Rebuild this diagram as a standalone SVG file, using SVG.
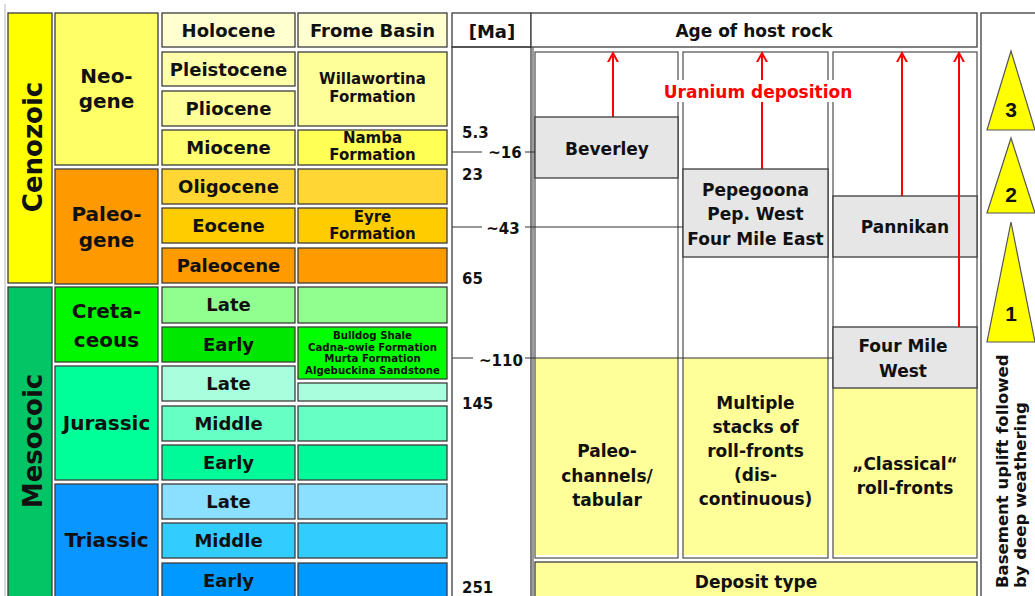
<svg xmlns="http://www.w3.org/2000/svg" width="1035" height="596" viewBox="0 0 1035 596">
  <style>
    text { font-family: "DejaVu Sans", "Liberation Sans", sans-serif; font-weight: bold; fill: #111; }
    .c { text-anchor: middle; }
    .box { stroke: #3c3c3c; stroke-width: 1.3; }
    .col { fill: none; stroke: #5a5a5a; stroke-width: 1.3; }
    .grey { fill: #e6e6e6; stroke: #3c3c3c; stroke-width: 1.3; }
    .dep { fill: #ffff99; }
    .tick { stroke: #333; stroke-width: 1.2; fill: none; }
    .up { stroke: #ff0000; stroke-width: 2; fill: none; marker-end: url(#head); }
    .era { font-size: 26px; }
    .per { font-size: 20px; }
    .ep { font-size: 18px; }
    .fm { font-size: 15px; }
    .fs { font-size: 10.2px; }
    .ma { font-size: 15px; }
    .age { font-size: 17px; }
    .tri { fill: #ffff00; stroke: #555; stroke-width: 1.2; }
    .num { font-family: "Liberation Sans", Arial, sans-serif; font-size: 21px; }
  </style>
  <defs>
    <marker id="head" markerUnits="userSpaceOnUse" markerWidth="18" markerHeight="18" viewBox="-9 -9 18 18" refX="0" refY="0" orient="auto">
      <path d="M-13,-7 L0,0 L-13,7" fill="none" stroke="#ff0000" stroke-width="2"/>
    </marker>
  </defs>

  <rect width="1035" height="596" fill="#ffffff"/>
  <line x1="5" y1="4" x2="5" y2="596" stroke="#cfcfcf" stroke-width="1.5"/>

  <!-- Eras -->
  <g id="era-cenozoic">
    <rect class="box" x="8" y="13" width="44" height="270" fill="#ffff00"/>
    <text class="era c" transform="translate(42,147) rotate(-90)">Cenozoic</text>
  </g>
  <g id="era-mesozoic">
    <rect class="box" x="8" y="287" width="44" height="320" fill="#04c566"/>
    <text class="era c" transform="translate(42,441) rotate(-90)">Mesocoic</text>
  </g>

  <!-- Periods -->
  <g id="period-neogene">
    <rect class="box" x="55" y="13" width="103" height="152" fill="#ffff66"/>
    <text class="per c" x="106.5" y="83">Neo-</text>
    <text class="per c" x="106.5" y="108">gene</text>
  </g>
  <g id="period-paleogene">
    <rect class="box" x="55" y="169" width="103" height="115" fill="#ff9900"/>
    <text class="per c" x="106.5" y="221">Paleo-</text>
    <text class="per c" x="106.5" y="247">gene</text>
  </g>
  <g id="period-cretaceous">
    <rect class="box" x="55" y="287" width="103" height="75" fill="#00f700"/>
    <text class="per c" x="106.5" y="318">Creta-</text>
    <text class="per c" x="106.5" y="347">ceous</text>
  </g>
  <g id="period-jurassic">
    <rect class="box" x="55" y="366" width="103" height="114" fill="#00ff99"/>
    <text class="per c" x="106.5" y="430">Jurassic</text>
  </g>
  <g id="period-triassic">
    <rect class="box" x="55" y="484" width="103" height="120" fill="#0a96ff"/>
    <text class="per c" x="106.5" y="547">Triassic</text>
  </g>

  <!-- Epochs -->
  <g id="epoch-holocene"><rect class="box" x="162" y="13" width="133" height="34" fill="#ffffd0"/><text class="ep c" x="228.5" y="37">Holocene</text></g>
  <g id="epoch-pleistocene"><rect class="box" x="162" y="52" width="133" height="34" fill="#ffffaa"/><text class="ep c" x="228.5" y="76">Pleistocene</text></g>
  <g id="epoch-pliocene"><rect class="box" x="162" y="91" width="133" height="35" fill="#ffff99"/><text class="ep c" x="228.5" y="115">Pliocene</text></g>
  <g id="epoch-miocene"><rect class="box" x="162" y="130" width="133" height="35" fill="#ffff70"/><text class="ep c" x="228.5" y="154">Miocene</text></g>
  <g id="epoch-oligocene"><rect class="box" x="162" y="169" width="133" height="35" fill="#ffd633"/><text class="ep c" x="228.5" y="193">Oligocene</text></g>
  <g id="epoch-eocene"><rect class="box" x="162" y="208" width="133" height="35" fill="#ffcc00"/><text class="ep c" x="228.5" y="232">Eocene</text></g>
  <g id="epoch-paleocene"><rect class="box" x="162" y="248" width="133" height="35" fill="#ff9a00"/><text class="ep c" x="228.5" y="272">Paleocene</text></g>
  <g id="epoch-late-cretaceous"><rect class="box" x="162" y="287" width="133" height="36" fill="#90ff90"/><text class="ep c" x="228.5" y="311">Late</text></g>
  <g id="epoch-early-cretaceous"><rect class="box" x="162" y="327" width="133" height="35" fill="#00e800"/><text class="ep c" x="228.5" y="351">Early</text></g>
  <g id="epoch-late-jurassic"><rect class="box" x="162" y="366" width="133" height="35" fill="#a8ffdd"/><text class="ep c" x="228.5" y="390">Late</text></g>
  <g id="epoch-middle-jurassic"><rect class="box" x="162" y="406" width="133" height="35" fill="#66ffc4"/><text class="ep c" x="228.5" y="430">Middle</text></g>
  <g id="epoch-early-jurassic"><rect class="box" x="162" y="445" width="133" height="35" fill="#00fa99"/><text class="ep c" x="228.5" y="469">Early</text></g>
  <g id="epoch-late-triassic"><rect class="box" x="162" y="484" width="133" height="35" fill="#8ce0ff"/><text class="ep c" x="228.5" y="508">Late</text></g>
  <g id="epoch-middle-triassic"><rect class="box" x="162" y="523" width="133" height="35" fill="#33ccff"/><text class="ep c" x="228.5" y="547">Middle</text></g>
  <g id="epoch-early-triassic"><rect class="box" x="162" y="563" width="133" height="40" fill="#0099ff"/><text class="ep c" x="228.5" y="587">Early</text></g>

  <!-- Frome Basin formations -->
  <g id="frome-header"><rect class="box" x="298" y="13" width="149" height="34" fill="#ffffd0"/><text class="ep c" x="372.5" y="37">Frome Basin</text></g>
  <g id="frome-willawortina"><rect class="box" x="298" y="52" width="149" height="74" fill="#ffff99"/><text class="fm c" x="372.5" y="84">Willawortina</text><text class="fm c" x="372.5" y="102">Formation</text></g>
  <g id="frome-namba"><rect class="box" x="298" y="130" width="149" height="35" fill="#ffff55"/><text class="fm c" x="372.5" y="143">Namba</text><text class="fm c" x="372.5" y="160">Formation</text></g>
  <g id="frome-oligocene"><rect class="box" x="298" y="169" width="149" height="35" fill="#ffd633"/></g>
  <g id="frome-eyre"><rect class="box" x="298" y="208" width="149" height="35" fill="#ffcc00"/><text class="fm c" x="372.5" y="222">Eyre</text><text class="fm c" x="372.5" y="239">Formation</text></g>
  <g id="frome-paleocene"><rect class="box" x="298" y="248" width="149" height="35" fill="#ff9a00"/></g>
  <g id="frome-late-cretaceous"><rect class="box" x="298" y="287" width="149" height="36" fill="#90ff90"/></g>
  <g id="frome-early-cretaceous">
    <rect class="box" x="298" y="327" width="149" height="52" fill="#00ff00"/>
    <text class="fs c" x="372.5" y="339">Bulldog Shale</text>
    <text class="fs c" x="372.5" y="350.5">Cadna-owie Formation</text>
    <text class="fs c" x="372.5" y="362">Murta Formation</text>
    <text class="fs c" x="372.5" y="373.5">Algebuckina Sandstone</text>
  </g>
  <g id="frome-late-jurassic"><rect class="box" x="298" y="383" width="149" height="18" fill="#a8ffdd"/></g>
  <g id="frome-middle-jurassic"><rect class="box" x="298" y="406" width="149" height="35" fill="#66ffc4"/></g>
  <g id="frome-early-jurassic"><rect class="box" x="298" y="445" width="149" height="35" fill="#00fa99"/></g>
  <g id="frome-late-triassic"><rect class="box" x="298" y="484" width="149" height="35" fill="#8ce0ff"/></g>
  <g id="frome-middle-triassic"><rect class="box" x="298" y="523" width="149" height="35" fill="#33ccff"/></g>
  <g id="frome-early-triassic"><rect class="box" x="298" y="563" width="149" height="40" fill="#0099ff"/></g>

  <!-- Age scale column -->
  <g id="ma-scale">
    <rect class="box" x="452" y="13" width="79" height="34" fill="#ffffff"/>
    <text class="ep c" x="492" y="38">[Ma]</text>
    <rect class="box" x="452" y="47" width="79" height="560" fill="none"/>
    <text class="ma" x="462" y="138">5.3</text>
    <text class="ma" x="462" y="180">23</text>
    <text class="ma" x="462" y="284">65</text>
    <text class="ma" x="462" y="409">145</text>
    <text class="ma" x="462" y="593">251</text>
    <text class="ma c" x="505" y="158">~16</text>
    <text class="ma c" x="503" y="234">~43</text>
    <text class="ma c" x="501" y="366">~110</text>
  </g>

  <!-- Host rock age area -->
  <g id="host-header">
    <rect class="box" x="531" y="13" width="446" height="34" fill="#ffffff"/>
    <text class="age c" x="754" y="37">Age of host rock</text>
  </g>
  <line x1="533" y1="47" x2="533" y2="600" stroke="#5a5a5a" stroke-width="1.2"/>

  <g id="deposit-paleochannels">
    <rect class="dep" x="535" y="358" width="143" height="197"/>
    <text class="age c" x="607" y="457">Paleo-</text>
    <text class="age c" x="607" y="482">channels/</text>
    <text class="age c" x="607" y="506">tabular</text>
  </g>
  <g id="deposit-multiple-stacks">
    <rect class="dep" x="683" y="358" width="145" height="197"/>
    <text class="age c" x="755.5" y="409">Multiple</text>
    <text class="age c" x="755.5" y="433">stacks of</text>
    <text class="age c" x="755.5" y="457">roll-fronts</text>
    <text class="age c" x="755.5" y="481">(dis-</text>
    <text class="age c" x="755.5" y="505">continuous)</text>
  </g>
  <g id="deposit-classical">
    <rect class="dep" x="833" y="388" width="144" height="167"/>
    <text class="age c" x="905" y="470">„Classical“</text>
    <text class="age c" x="905" y="494">roll-fronts</text>
  </g>

  <g id="columns">
    <rect class="col" x="535" y="52" width="143" height="506"/>
    <rect class="col" x="683" y="52" width="145" height="506"/>
    <rect class="col" x="833" y="52" width="144" height="506"/>
  </g>

  <!-- Connectors: age ticks and deposition arrows -->
  <g id="connectors">
    <path class="tick" d="M452,152 H482 M525,152 H535"/>
    <path class="tick" d="M452,227 H482 M525,227 H683"/>
    <path class="tick" d="M452,358 H473 M525,358 H833"/>
    <line class="up" x1="613" y1="117" x2="613" y2="53"/>
    <line class="up" x1="762" y1="169" x2="762" y2="53"/>
    <line class="up" x1="902" y1="196" x2="902" y2="53"/>
  </g>

  <g id="host-beverley">
    <rect class="grey" x="535" y="117" width="143" height="61"/>
    <text class="age c" x="607" y="155">Beverley</text>
  </g>
  <g id="host-pepegoona">
    <rect class="grey" x="683" y="169" width="145" height="88"/>
    <text class="age c" x="755.5" y="196">Pepegoona</text>
    <text class="age c" x="755.5" y="220">Pep. West</text>
    <text class="age c" x="755.5" y="245">Four Mile East</text>
  </g>
  <g id="host-pannikan">
    <rect class="grey" x="833" y="196" width="144" height="61"/>
    <text class="age c" x="905" y="233">Pannikan</text>
  </g>
  <g id="host-four-mile-west">
    <rect class="grey" x="833" y="327" width="144" height="61"/>
    <text class="age c" x="903" y="352">Four Mile</text>
    <text class="age c" x="903" y="377">West</text>
  </g>
  <line class="up" x1="959" y1="327" x2="959" y2="53"/>

  <g id="label-uranium">
    <rect x="663" y="80" width="191" height="22" fill="#ffffff"/>
    <text class="age c" x="758" y="98" style="fill:#ff0000">Uranium deposition</text>
  </g>

  <g id="deposit-type">
    <rect class="box" x="535" y="562" width="442" height="40" fill="#ffff99"/>
    <text class="age c" x="756" y="588">Deposit type</text>
  </g>

  <!-- Basement uplift events -->
  <rect class="box" x="981" y="13" width="60" height="600" fill="#ffffff"/>
  <g id="uplift-3">
    <polygon class="tri" points="1011,51 987,130 1035,130"/>
    <text class="num c" x="1011" y="117">3</text>
  </g>
  <g id="uplift-2">
    <polygon class="tri" points="1011,138 987,213 1035,213"/>
    <text class="num c" x="1011" y="202">2</text>
  </g>
  <g id="uplift-1">
    <polygon class="tri" points="1011,222 987,342 1035,342"/>
    <text class="num c" x="1011" y="321">1</text>
  </g>
  <g id="uplift-caption">
    <text style="font-size:16.5px" transform="translate(1008,588) rotate(-90)">Basement uplift followed</text>
    <text style="font-size:16.5px" transform="translate(1026,588) rotate(-90)">by deep weathering</text>
  </g>
</svg>
